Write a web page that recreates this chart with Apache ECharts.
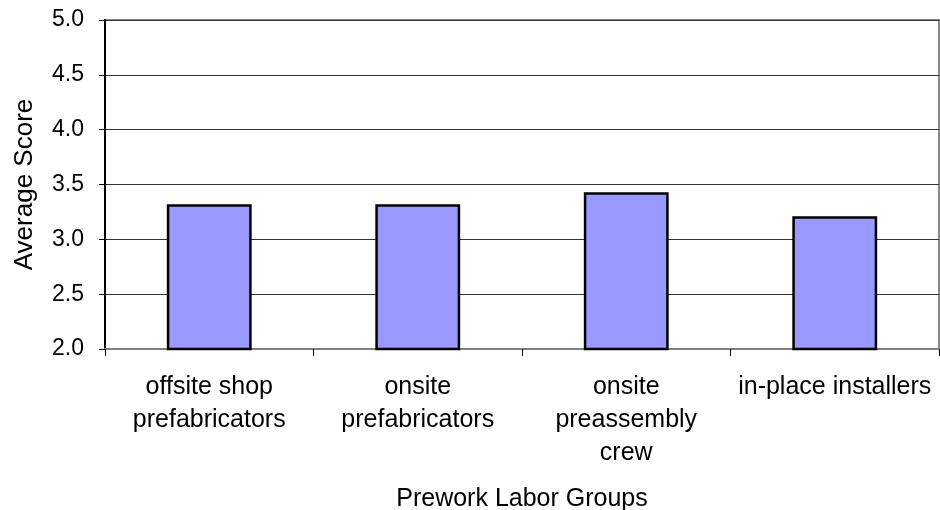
<!DOCTYPE html>
<html>
<head>
<meta charset="utf-8">
<script src="https://cdn.jsdelivr.net/npm/echarts@6/dist/echarts.min.js"></script>
<style>html,body{margin:0;padding:0;background:#fff}#c{width:940px;height:510px}</style>
</head>
<body>
<div id="c"></div>
<script>
var categories = ["offsite shop\nprefabricators", "onsite\nprefabricators", "onsite\npreassembly\ncrew", "in-place installers"];
var scores = [3.32, 3.32, 3.43, 3.21];
var yTicks = [2.0, 2.5, 3.0, 3.5, 4.0, 4.5, 5.0];
var xTitle = "Prework Labor Groups";
var yTitle = "Average Score";

var FONT = "'Liberation Sans', Arial, sans-serif";
var chart = echarts.init(document.getElementById('c'), null, {renderer: 'canvas'});
chart.setOption({
  animation: false,
  backgroundColor: '#fff',
  grid: {left: 105, right: 1, top: 20, bottom: 161, containLabel: false, outerBoundsMode: 'none', show: true, borderColor: '#888', borderWidth: 2, backgroundColor: 'transparent'},
  xAxis: {
    type: 'category',
    data: categories,
    name: xTitle,
    nameLocation: 'middle',
    nameGap: 138,
    nameTextStyle: {fontFamily: FONT, fontSize: 25, color: '#000'},
    axisLine: {lineStyle: {color: '#808080', width: 2}},
    axisTick: {show: true, length: 7, lineStyle: {color: '#000', width: 1}},
    axisLabel: {fontFamily: FONT, fontSize: 25, color: '#000', lineHeight: 33, margin: 22, interval: 0},
    splitLine: {show: false}
  },
  yAxis: {
    type: 'value',
    min: yTicks[0],
    max: yTicks[yTicks.length - 1],
    interval: 0.5,
    name: yTitle,
    nameLocation: 'middle',
    nameGap: 67,
    nameTextStyle: {fontFamily: FONT, fontSize: 26, color: '#000'},
    axisLine: {show: true, lineStyle: {color: '#000', width: 2}},
    axisTick: {show: true, length: 6, lineStyle: {color: '#000', width: 1}},
    axisLabel: {fontFamily: FONT, fontSize: 23, color: '#000', margin: 21, formatter: function (v) { return v.toFixed(1); }},
    splitLine: {show: true, lineStyle: {color: '#333', width: 1}}
  },
  series: [{
    type: 'bar',
    data: scores,
    barWidth: '40.7%',
    itemStyle: {color: '#9999ff', borderColor: '#000', borderWidth: 2.5}
  }]
});
</script>
</body>
</html>
